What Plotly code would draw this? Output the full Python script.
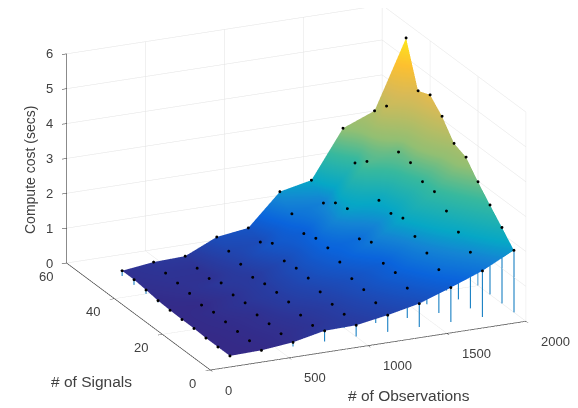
import plotly.graph_objects as go

observations = [200, 400, 600, 800, 1000, 1200, 1400, 1600, 1800, 2000]
signals = [5, 10, 15, 20, 25, 30, 35, 40, 45, 50]
cost = [
    [0.01, 0.03, 0.12, 0.31, 0.33, 0.48, 0.67, 0.99, 1.33, 1.78],
    [0.01, 0.05, 0.11, 0.21, 0.39, 0.58, 0.86, 1.25, 1.61, 2.18],
    [0.01, 0.06, 0.14, 0.25, 0.42, 0.70, 1.05, 1.47, 1.93, 2.57],
    [0.03, 0.08, 0.14, 0.37, 0.52, 0.76, 1.06, 1.69, 2.28, 2.98],
    [0.03, 0.10, 0.23, 0.39, 0.66, 0.98, 1.41, 1.96, 2.58, 3.43],
    [0.04, 0.05, 0.20, 0.38, 0.69, 1.13, 1.25, 1.84, 2.61, 3.57],
    [0.06, 0.13, 0.29, 0.31, 0.64, 1.15, 1.86, 1.96, 2.90, 4.09],
    [0.11, 0.17, 0.16, 0.43, 0.89, 1.03, 1.77, 2.82, 2.95, 4.45],
    [0.15, 0.20, 0.20, 0.55, 0.67, 1.34, 1.51, 2.52, 4.01, 4.31],
    [0.15, 0.26, 0.29, 0.70, 0.82, 1.72, 1.91, 3.26, 3.62, 5.57],
]
x_ticks = [0, 500, 1000, 1500, 2000]
y_ticks = [0, 20, 40, 60]
z_ticks = [0, 1, 2, 3, 4, 5, 6]
x_title = "# of Observations"
y_title = "# of Signals"
z_title = "Compute cost (secs)"

parula = [
    [0.0, "#352a87"], [0.2, "#0a64dc"], [0.28, "#1485d4"], [0.34, "#06a7c6"],
    [0.47, "#38b99e"], [0.58, "#92bf73"], [0.76, "#d9ba56"], [0.88, "#fdc030"],
    [1.0, "#fbe81a"],
]

# Orthographic view: sliding the dots along the view ray leaves them where they
# are on screen and lifts them clear of the surface's depth.
RAY = (-23.0, -1.5, 0.093)

fig = go.Figure()
fig.add_trace(go.Surface(
    x=observations, y=signals, z=cost, colorscale=parula, showscale=False,
    lighting=dict(ambient=1, diffuse=0, specular=0, roughness=1, fresnel=0),
    hoverinfo="skip",
))
sx, sy, sz, px, py, pz = [], [], [], [], [], []
for j, s in enumerate(signals):
    for i, o in enumerate(observations):
        sx += [o, o, None]
        sy += [s, s, None]
        sz += [0, cost[j][i], None]
        px.append(o + RAY[0])
        py.append(s + RAY[1])
        pz.append(cost[j][i] + RAY[2])
fig.add_trace(go.Scatter3d(x=sx, y=sy, z=sz, mode="lines",
                           line=dict(color="#0072bd", width=2), hoverinfo="skip"))
fig.add_trace(go.Scatter3d(x=px, y=py, z=pz, mode="markers",
                           marker=dict(color="black", size=1.7), hoverinfo="skip"))

font = dict(family="Liberation Sans", size=13, color="#404040")
axis = dict(showbackground=False, showspikes=False, gridcolor="#e2e2e2", gridwidth=1,
            zeroline=False, showline=True, linecolor="#262626", linewidth=1.5,
            showticklabels=False, ticks="outside", ticklen=5, tickwidth=1, tickcolor="#262626",
            title=dict(text=""))
title_font = dict(family="Liberation Sans", size=15.5, color="#404040")
z_title_font = dict(family="Liberation Sans", size=14, color="#404040")

labels = []
for v in x_ticks:
    labels.append(dict(x=v, y=0, z=0, text=str(v), xanchor="left", yanchor="middle",
                       xshift=13, yshift=-20, showarrow=False, font=font))
for v in y_ticks:
    labels.append(dict(x=0, y=v, z=0, text=str(v), xanchor="right", yanchor="middle",
                       xshift=-12, yshift=-13, showarrow=False, font=font))
for v in z_ticks:
    labels.append(dict(x=0, y=60, z=v, text=str(v), xanchor="right", yanchor="middle",
                       xshift=-12, yshift=0, showarrow=False, font=font))

fig.update_layout(
    width=578, height=408, showlegend=False, paper_bgcolor="white",
    margin=dict(l=0, r=0, t=0, b=0),
    scene=dict(
        domain=dict(x=[0, 1], y=[0, 1]),
        xaxis=dict(axis, range=[0, 2000], tickvals=x_ticks),
        yaxis=dict(axis, range=[0, 60], tickvals=y_ticks),
        zaxis=dict(axis, range=[0, 6], tickvals=z_ticks),
        aspectmode="manual", aspectratio=dict(x=1.7, y=1.7, z=1.09),
        camera=dict(projection=dict(type="orthographic"),
                    eye=dict(x=-0.776, y=-1.712, z=0.55),
                    center=dict(x=0.004, y=0, z=-0.128), up=dict(x=0, y=0, z=1)),
        annotations=labels,
    ),
    annotations=[
        dict(text=x_title, x=401 / 578, y=1 - 387 / 408, xref="paper", yref="paper", xanchor="center", yanchor="middle", showarrow=False, font=title_font),
        dict(text=y_title, x=83 / 578, y=1 - 373 / 408, xref="paper", yref="paper", xanchor="center", yanchor="middle", showarrow=False, font=title_font),
        dict(text=z_title, x=22 / 578, y=1 - 162 / 408, xref="paper", yref="paper", xanchor="center", yanchor="middle", showarrow=False, textangle=-90, font=z_title_font),
    ],
)
fig.write_html("out.html")
